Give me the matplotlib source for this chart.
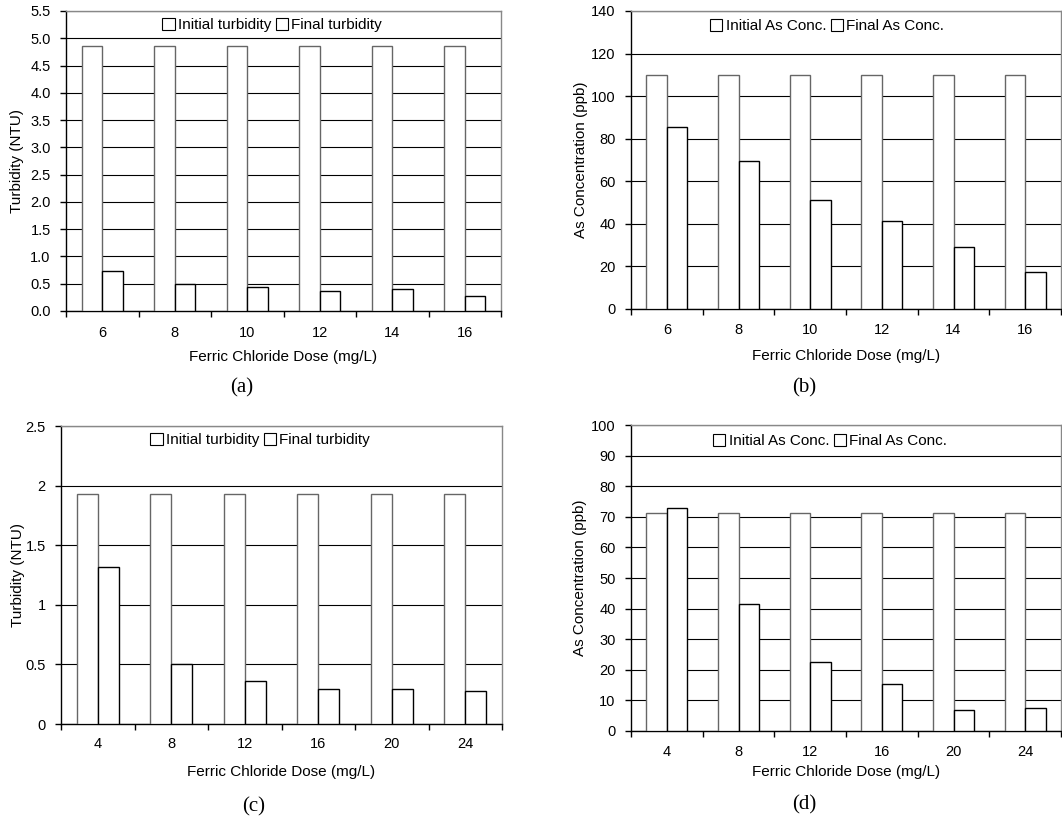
import matplotlib
matplotlib.use('Agg')
import matplotlib.pyplot as plt
from matplotlib.patches import Patch
import numpy as np

# panel data
dose_ab = ['6', '8', '10', '12', '14', '16']
dose_cd = ['4', '8', '12', '16', '20', '24']

turb_init_a = [4.85, 4.85, 4.85, 4.85, 4.85, 4.85]
turb_final_a = [0.74, 0.50, 0.44, 0.36, 0.41, 0.27]

as_init_b = [110, 110, 110, 110, 110, 110]
as_final_b = [85.4, 69.6, 51.0, 41.5, 29.0, 17.2]

turb_init_c = [1.93, 1.93, 1.93, 1.93, 1.93, 1.93]
turb_final_c = [1.32, 0.50, 0.36, 0.29, 0.29, 0.28]

as_init_d = [71.3, 71.3, 71.3, 71.3, 71.3, 71.3]
as_final_d = [72.9, 41.4, 22.7, 15.3, 7.0, 7.6]

plt.rcParams['font.family'] = ['Liberation Sans', 'DejaVu Sans']

W, H = 1062, 819
fig = plt.figure(figsize=(W / 100, H / 100), dpi=100)


def px_axes(l, t, r, b):
    return fig.add_axes([l / W, 1 - b / H, (r - l) / W, (b - t) / H])


def panel(box, cats, init, final, leg_labels, yticks, ylabels, ylabel,
          ylab_x, tick_y, xlab_y, leg_xy, caption, cap_xy):
    l, t, r, b = box
    ax = px_axes(l, t, r, b)
    x = np.arange(len(cats))
    w = 0.285
    ax.bar(x - w / 2, init, w, facecolor='white', edgecolor='#666666', linewidth=1.0, zorder=3)
    ax.bar(x + w / 2, final, w, facecolor='white', edgecolor='black', linewidth=1.0, zorder=3)
    ax.set_xlim(-0.5, len(cats) - 0.5)
    ax.set_ylim(yticks[0], yticks[-1])
    ax.set_yticks(yticks)
    ax.set_yticklabels(ylabels, fontsize=10.5)
    ax.yaxis.grid(True, color='black', linewidth=0.8, zorder=1)
    ax.set_axisbelow(True)

    # category boundaries carry the ticks, labels sit at the centres
    ax.set_xticks(np.arange(-0.5, len(cats)))
    ax.set_xticklabels([])
    ax.set_xticks(x, minor=True)
    ax.set_xticklabels(cats, minor=True, fontsize=10.5)
    ax.tick_params(axis='x', which='major', direction='out', length=4, width=1)
    ax.tick_params(axis='x', which='minor', length=0, pad=(tick_y - b - 7) * 0.72)
    ax.tick_params(axis='y', direction='out', length=4, width=1, pad=7)

    for s in ['left', 'bottom']:
        ax.spines[s].set_color('black')
        ax.spines[s].set_linewidth(1.0)
    for s in ['top', 'right']:
        ax.spines[s].set_color('#888888')
        ax.spines[s].set_linewidth(1.0)

    ax.set_ylabel(ylabel, fontsize=11)
    ax.yaxis.set_label_coords((ylab_x + 7 - l) / (r - l), 0.5)
    ax.set_xlabel('Ferric Chloride Dose (mg/L)', fontsize=11)
    ax.xaxis.set_label_coords(0.5, -(xlab_y - 7 - b) / (b - t))

    handles = [Patch(facecolor='white', edgecolor='black', linewidth=0.8),
               Patch(facecolor='white', edgecolor='black', linewidth=0.8)]
    ax.legend(handles, leg_labels, loc='center',
              bbox_to_anchor=((leg_xy[0] - l) / (r - l), (b - leg_xy[1]) / (b - t)),
              ncol=2, frameon=False, fontsize=11, handlelength=0.8, handleheight=0.8,
              handletextpad=0.2, columnspacing=0.3, borderpad=0)

    fig.text(cap_xy[0] / W, 1 - cap_xy[1] / H, caption, family='Liberation Serif',
             fontsize=15, ha='center', va='center')
    return ax


panel((66, 11, 501, 311), dose_ab, turb_init_a, turb_final_a,
      ['Initial turbidity', 'Final turbidity'],
      np.arange(0, 5.51, 0.5), ['%.1f' % v for v in np.arange(0, 5.51, 0.5)],
      'Turbidity (NTU)', 17, 333, 357, (272, 25), '(a)', (242, 388))

panel((631, 11, 1061, 309), dose_ab, as_init_b, as_final_b,
      ['Initial As Conc.', 'Final As Conc.'],
      np.arange(0, 141, 20), [str(v) for v in range(0, 141, 20)],
      'As Concentration (ppb)', 581, 330, 356, (827, 26), '(b)', (804, 388))

panel((61, 426, 502, 724), dose_cd, turb_init_c, turb_final_c,
      ['Initial turbidity', 'Final turbidity'],
      np.arange(0, 2.51, 0.5), ['0', '0.5', '1', '1.5', '2', '2.5'],
      'Turbidity (NTU)', 18, 744, 772, (260, 440), '(c)', (254, 807))

panel((631, 425, 1061, 731), dose_cd, as_init_d, as_final_d,
      ['Initial As Conc.', 'Final As Conc.'],
      np.arange(0, 101, 10), [str(v) for v in range(0, 101, 10)],
      'As Concentration (ppb)', 580, 752, 772, (830, 441), '(d)', (804, 805))

fig.savefig('out.png', dpi=100, facecolor='white')
